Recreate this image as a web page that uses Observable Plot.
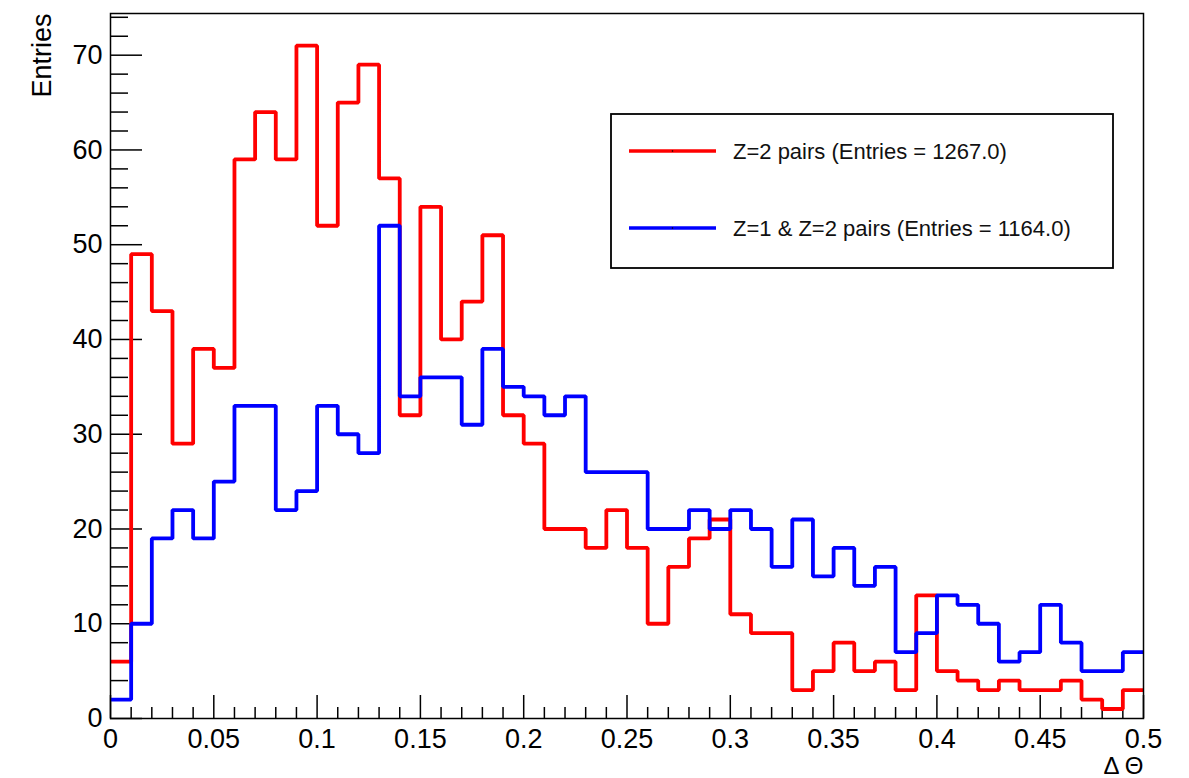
<!DOCTYPE html>
<html><head><meta charset="utf-8">
<script src="https://cdn.jsdelivr.net/npm/d3@7"></script>
<script src="https://cdn.jsdelivr.net/npm/@observablehq/plot@0.6"></script>
<style>body{margin:0;background:#fff;} svg{display:block}</style>
</head><body><div id="chart"></div>
<script>
// Histogram binning (ΔΘ from 0 to 0.5, 50 bins)
const binStart = 0;
const binWidth = 0.01;

// Series values (entries per bin)
const z2Pairs = [6,49,43,29,39,37,59,64,59,71, 52,65,69,57,32,54,40,44,51,32, 29,20,20,18,22,18,10,16,19,21, 11,9,9,3,5,8,5,6,3,13, 5,4,3,4,3,3,4,2,1,3];
const z1z2Pairs = [2,10,19,22,19,25,33,33,22,24, 33,30,28,52,34,36,36,31,39,35, 34,32,34,26,26,26,20,20,22,20, 22,20,16,21,15,18,14,16,7,9, 13,12,10,6,7,12,8,5,5,7];

const seriesNames = ["Z=2 pairs (Entries = 1267.0)", "Z=1 & Z=2 pairs (Entries = 1164.0)"];
const seriesColors = ["#ff0000", "#0000ff"];

// Tick labels
const xTickLabels = [0, 0.05, 0.1, 0.15, 0.2, 0.25, 0.3, 0.35, 0.4, 0.45, 0.5];
const yTickLabels = [0, 10, 20, 30, 40, 50, 60, 70];
const xTitle = "Δ Θ";
const yTitle = "Entries";

const xMinor = d3.range(0, 51).map(i => +(i * 0.01).toFixed(2)).filter(v => !xTickLabels.includes(v));
const yMinor = d3.range(0, 75, 2).filter(v => v % 10 !== 0);

function steps(values, series) {
  const pts = [];
  values.forEach((v, i) => {
    const x0 = binStart + i * binWidth;
    pts.push({x: x0, y: v, series});
    pts.push({x: x0 + binWidth, y: v, series});
  });
  return pts;
}
const redSteps = steps(z2Pairs, seriesNames[0]);
const blueSteps = steps(z1z2Pairs, seriesNames[1]);

const font = "'Liberation Sans', Arial, Helvetica, sans-serif";

const chart = Plot.plot({
  width: 1189, height: 778,
  marginLeft: 110, marginRight: 46, marginTop: 13, marginBottom: 60,
  style: {fontFamily: font, fontSize: "27px", color: "black", background: "white"},
  x: {domain: [0, 0.5]},
  y: {domain: [0, 74.4]},
  marks: [
    Plot.axisX(xMinor, {tickSize: -11, tickFormat: () => "", label: null, strokeWidth: 1.5}),
    Plot.axisX(xTickLabels, {tickSize: -23, tickPadding: 33, tickFormat: d => String(d), label: null, fontSize: 27, strokeWidth: 1.5}),
    Plot.axisY(yMinor, {tickSize: -18, tickFormat: () => "", label: null, strokeWidth: 1.5}),
    Plot.axisY(yTickLabels, {tickSize: -32, tickPadding: 40, tickFormat: d => String(d), label: null, fontSize: 27, strokeWidth: 1.5}),
    Plot.line(redSteps, {x: "x", y: "y", stroke: seriesColors[0], strokeWidth: 3.8, strokeLinejoin: "miter", strokeLinecap: "butt"}),
    Plot.line(blueSteps, {x: "x", y: "y", stroke: seriesColors[1], strokeWidth: 3.8, strokeLinejoin: "miter", strokeLinecap: "butt"}),
    Plot.frame({stroke: "black", strokeWidth: 1.5}),
    Plot.text([yTitle], {text: d => d, frameAnchor: "top-left", rotate: -90, textAnchor: "end", dx: -79, dy: 0, fontSize: 27}),
    Plot.text([xTitle], {text: d => d, frameAnchor: "bottom-right", textAnchor: "end", lineAnchor: "bottom", dy: 55, fontSize: 24, style: "letter-spacing: 1px"})
  ]
});

// Legend (ROOT-style box)
const svg = d3.select(chart);
const lg = svg.append("g").attr("font-family", font).attr("text-anchor", "start");
lg.append("rect").attr("x", 611).attr("y", 114).attr("width", 502).attr("height", 154)
  .attr("fill", "white").attr("stroke", "black").attr("stroke-width", 1.8);
const legendY = [151, 228];
seriesNames.forEach((name, i) => {
  lg.append("line").attr("x1", 629).attr("x2", 716).attr("y1", legendY[i]).attr("y2", legendY[i])
    .attr("stroke", seriesColors[i]).attr("stroke-width", 3.5);
  lg.append("circle").attr("cx", 672.5).attr("cy", legendY[i]).attr("r", 0.8).attr("fill", "black");
  lg.append("text").attr("x", 733).attr("y", legendY[i]).attr("dy", "0.35em")
    .attr("text-anchor", "start").attr("font-size", 22).attr("fill", "#111").text(name);
});

document.getElementById("chart").appendChild(chart);
</script>
</body></html>
